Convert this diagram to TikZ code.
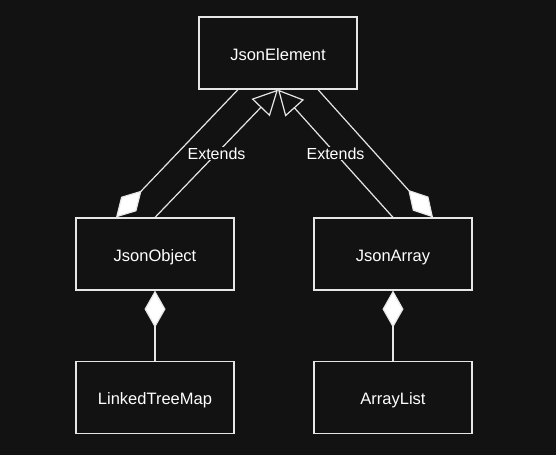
\documentclass[tikz,border=0pt]{standalone}
\usepackage{fontspec}
\setmainfont{Liberation Sans}
\usetikzlibrary{arrows.meta,backgrounds}
\definecolor{bgdark}{HTML}{121212}
\definecolor{lineg}{HTML}{E6E6E6}
\tikzset{
  clsbox/.style={ draw=lineg, line width=1.2pt, minimum width=158pt, minimum height=72pt, text=white, text height=14pt, text depth=0pt, font=\fontsize{16.5}{19}\selectfont }
}
\tikzset{
  extnd/.style={ draw=lineg, line width=1.2pt, -{Triangle[open, length=25pt, width=25pt]} }
}
\tikzset{
  compo/.style={ draw=lineg, line width=1.2pt, -{Diamond[length=37pt, width=21pt, fill=white]} }
}
\tikzset{
  extlbl/.style={ fill=bgdark, text=white, inner sep=1pt, font=\fontsize{16}{19}\selectfont }
}
\begin{document}
\begin{tikzpicture}[x=1pt, y=-1pt]
      \fill[bgdark] (0,0) rectangle (556,455);
      \useasboundingbox (0,0) rectangle (556,455);

      \node[clsbox] (elem) at (278, 53) {JsonElement};

      \node[clsbox] (obj) at (155, 254) {JsonObject};
      \node[clsbox] (ltm) at (155, 397.5) {LinkedTreeMap};
      \draw[compo] ([xshift=-40pt]elem.south) -- ([xshift=-39pt]obj.north);
      \draw[extnd] (obj.north) -- node[midway, extlbl] {Extends} (elem.south);
      \draw[compo] (ltm) -- (obj);

      \node[clsbox] (arr) at (393, 254) {JsonArray};
      \node[clsbox] (al) at (393, 397.5) {ArrayList};
      \draw[compo] ([xshift=40pt]elem.south) -- ([xshift=40pt]arr.north);
      \draw[extnd] (arr.north) -- node[midway, extlbl] {Extends} (elem.south);
      \draw[compo] (al) -- (arr);
\end{tikzpicture}
\end{document}
